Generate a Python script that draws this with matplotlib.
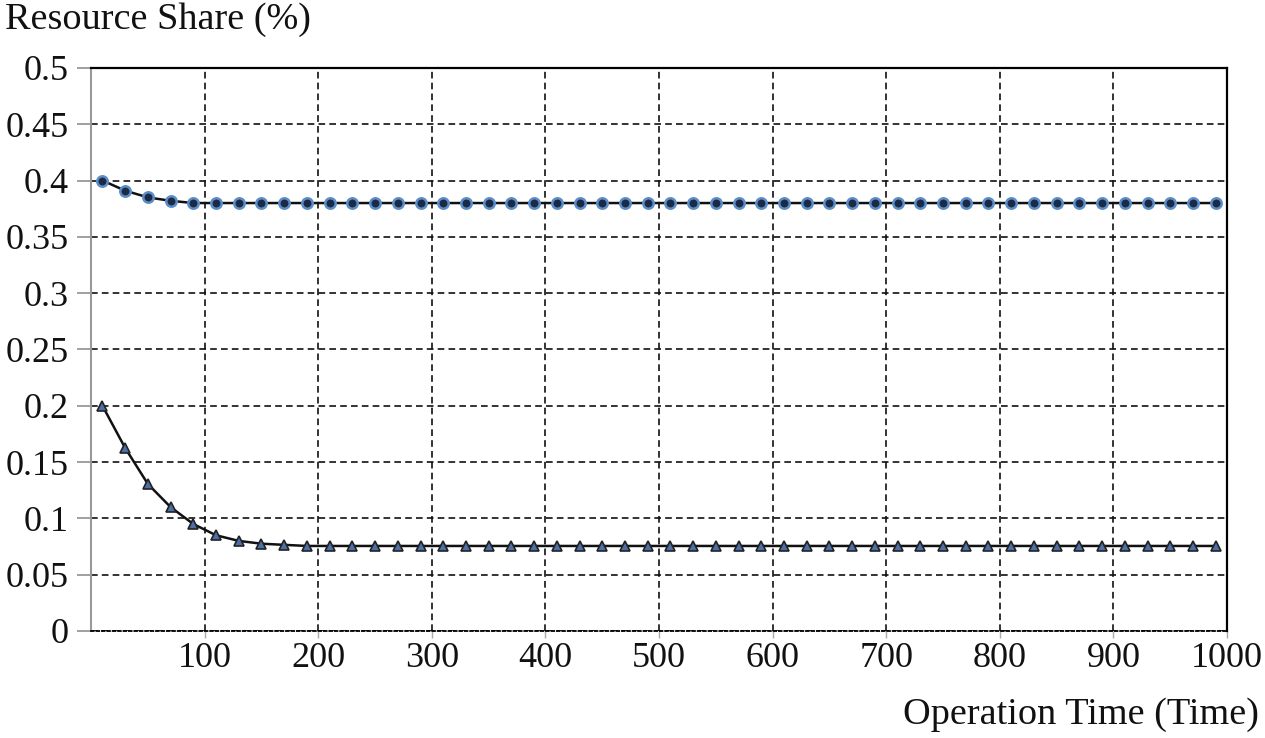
import numpy as np
import matplotlib.pyplot as plt

# operation time points (every 20 units)
time = np.arange(10, 1000, 20)

upper_head = [0.400, 0.391, 0.385, 0.382, 0.380]
upper = upper_head + [0.380] * (len(time) - len(upper_head))

lower_head = [0.200, 0.1625, 0.1305, 0.110, 0.095, 0.085, 0.080, 0.0775, 0.0765, 0.0755]
lower = lower_head + [0.0755] * (len(time) - len(lower_head))

plt.rcParams['font.family'] = ['Liberation Serif', 'DejaVu Serif']

fig = plt.figure(figsize=(12.65, 7.38), dpi=100)
ax = fig.add_axes([0.072, 0.145, 0.898, 0.763])

ax.plot(time, upper, color='#111111', lw=1.8, marker='o', ms=7.5,
        mfc='#1c2a44', mec='#5b8ec8', mew=1.8, zorder=3)
ax.plot(time, lower, color='#111111', lw=1.8, marker='^', ms=7,
        mfc='#4d6fa8', mec='#222222', mew=1.2, zorder=3)

ax.set_xlim(0, 1000)
ax.set_ylim(0, 0.5)
ax.set_xticks(np.arange(100, 1001, 100))
yt = np.arange(0, 0.501, 0.05)
ax.set_yticks(yt)
ax.set_yticklabels(['0', '0.05', '0.1', '0.15', '0.2', '0.25', '0.3', '0.35', '0.4', '0.45', '0.5'])

ax.grid(True, color='#111111', ls=(0, (4, 2.5)), lw=1.2)
ax.set_axisbelow(True)

ax.spines['left'].set_color('#999999')
ax.spines['left'].set_linewidth(1.5)
ax.spines['bottom'].set_linestyle((0, (1.5, 1.5)))
ax.spines['bottom'].set_linewidth(1.3)
ax.spines['top'].set_linewidth(1.6)
ax.spines['right'].set_linewidth(1.6)

ax.tick_params(axis='y', colors='#999999', labelcolor='#111111', length=10, width=1.3,
               labelsize=26, pad=6)
ax.tick_params(axis='x', colors='#aaaaaa', labelcolor='#111111', length=5, width=1,
               labelsize=26, pad=3)

fig.text(0.004, 0.973, 'Resource Share (%)', fontsize=27.5, ha='left', va='center', color='#111111')
fig.text(0.995, 0.031, 'Operation Time (Time)', fontsize=27.5, ha='right', va='center', color='#111111')

plt.savefig('out.png', dpi=100)
